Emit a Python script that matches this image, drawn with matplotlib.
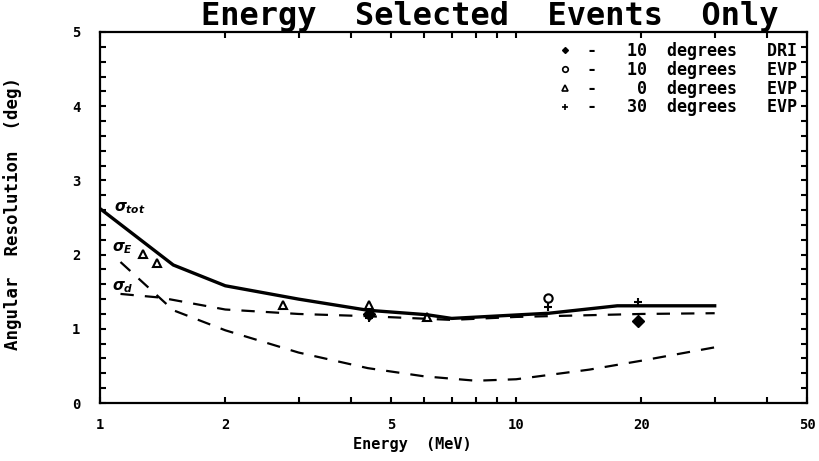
import matplotlib
matplotlib.use("Agg")
import matplotlib.pyplot as plt
from matplotlib.lines import Line2D
from matplotlib.ticker import FixedLocator, NullLocator, MultipleLocator

plt.rcParams['font.family'] = ['DejaVu Sans Mono', 'DejaVu Sans']
plt.rcParams['font.weight'] = 'bold'

# total resolution (solid) and the two components (dashed)
energy_tot = [1, 1.5, 2, 3, 4.4, 6.1, 7, 12, 17.5, 30]
res_tot = [2.62, 1.86, 1.58, 1.40, 1.25, 1.19, 1.14, 1.21, 1.31, 1.31]

energy_d = [1.12, 1.4, 2, 3, 4.4, 7, 10, 20, 30]
res_d = [1.47, 1.42, 1.26, 1.20, 1.17, 1.12, 1.16, 1.20, 1.21]

energy_e = [1.12, 1.5, 2, 3, 4.4, 6, 8, 10, 15, 20, 30]
res_e = [1.90, 1.25, 0.98, 0.68, 0.47, 0.36, 0.30, 0.32, 0.45, 0.57, 0.75]

# measured points
dri10_e = [4.43, 19.6]
dri10_r = [1.20, 1.10]
evp10_e = [11.9]
evp10_r = [1.41]
evp0_e = [1.27, 1.37, 2.75, 4.43, 6.1]
evp0_r = [2.01, 1.89, 1.32, 1.32, 1.16]
evp30_e = [4.43, 11.9, 19.6]
evp30_r = [1.15, 1.30, 1.36]

xtick_vals = [1, 2, 3, 4, 5, 6, 7, 8, 9, 10, 20, 30, 40, 50]
xtick_shown = [1, 2, 5, 10, 20, 50]

legend_labels = ['-   10  degrees   DRI', '-   10  degrees   EVP',
                 '-    0  degrees   EVP', '-   30  degrees   EVP']

fig = plt.figure(figsize=(8.19, 4.61), dpi=100)
ax = fig.add_axes([100/819, 58/461, 707/819, 371/461])

ax.plot(energy_tot, res_tot, '-', c='k', lw=2.4)
ax.plot(energy_d, res_d, '--', c='k', lw=1.6, dashes=(6, 5))
ax.plot(energy_e, res_e, '--', c='k', lw=1.6, dashes=(6, 5))

ax.plot(dri10_e, dri10_r, 'D', c='k', ms=6, ls='none')
ax.plot(evp10_e, evp10_r, 'o', mfc='none', mec='k', mew=1.5, ms=6, ls='none')
ax.plot(evp0_e, evp0_r, '^', mfc='none', mec='k', mew=1.5, ms=6, ls='none')
ax.plot(evp30_e, evp30_r, '+', c='k', mew=1.5, ms=6, ls='none')

ax.text(1.08, 2.62, r'$\sigma_{tot}$', fontsize=11, va='center')
ax.text(1.07, 2.09, r'$\sigma_{E}$', fontsize=11, va='center')
ax.text(1.07, 1.56, r'$\sigma_{d}$', fontsize=11, va='center')

ax.set_xscale('log')
ax.set_xlim(1, 50)
ax.set_ylim(0, 5)
ax.xaxis.set_major_locator(FixedLocator(xtick_vals))
ax.xaxis.set_minor_locator(NullLocator())
ax.set_xticklabels([str(v) if v in xtick_shown else '' for v in xtick_vals])
ax.yaxis.set_major_locator(MultipleLocator(1))
ax.yaxis.set_minor_locator(MultipleLocator(0.2))
ax.tick_params(which='both', direction='in', top=True, right=True,
               length=4, width=1.5, labelsize=10, pad=14)
ax.tick_params(axis='x', pad=11)
for s in ax.spines.values():
    s.set_linewidth(1.6)

ax.set_xlabel('Energy  (MeV)', fontsize=11, fontweight='bold')
ax.xaxis.set_label_coords(312/707, -34/371)
ax.set_ylabel('Angular  Resolution  (deg)', fontsize=12.5, fontweight='bold')
ax.yaxis.set_label_coords(-78/707, 0.51)

fig.text(490/819, 1 - 17/461, 'Energy  Selected  Events  Only', fontsize=23,
         fontweight='bold', ha='center', va='center')

handles = [Line2D([], [], marker='D', c='k', ls='none', ms=3),
           Line2D([], [], marker='o', mfc='none', mec='k', mew=1.2, ls='none', ms=4),
           Line2D([], [], marker='^', mfc='none', mec='k', mew=1.2, ls='none', ms=4),
           Line2D([], [], marker='+', c='k', mew=1.2, ls='none', ms=5)]
ax.legend(handles, legend_labels, loc='upper right', frameon=False,
          prop={'family': 'DejaVu Sans Mono', 'weight': 'bold', 'size': 12},
          handlelength=0.8, handletextpad=0.9, labelspacing=0.05,
          borderaxespad=0.2)

fig.savefig('out.png', dpi=100)
